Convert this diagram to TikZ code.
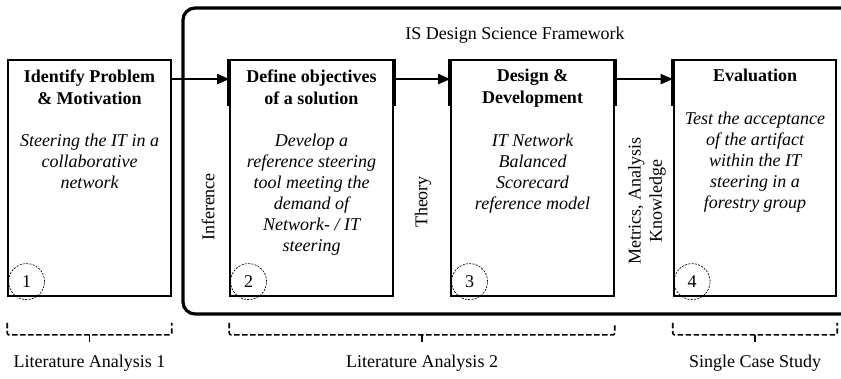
\documentclass[tikz,border=0pt]{standalone}
\usepackage{fontspec}
\setmainfont{Liberation Serif}
\usetikzlibrary{arrows.meta, positioning, calc}

\begin{document}
\begin{tikzpicture}[
    x=0.75pt, y=-0.75pt,
    phase/.style={rectangle, draw=black, line width=1.4pt, minimum width=122pt, minimum height=177pt, inner sep=0pt},
    head/.style={font=\fontsize{13.5}{16.5}\selectfont\bfseries, align=center, anchor=north, inner sep=0pt, text depth=0pt},
    desc/.style={font=\fontsize{13.5}{15.8}\selectfont\itshape, align=center, inner sep=0pt},
    num/.style={circle, draw=black, dash pattern=on 1.5pt off 1pt, line width=0.5pt, minimum size=27pt, inner sep=0pt, font=\fontsize{13.5}{16}\selectfont},
    flow/.style={-{Triangle[length=9pt,width=7.5pt]}, line width=1.5pt},
    side/.style={line width=3pt},
    side label/.style={rotate=90, align=center, font=\fontsize{13.5}{16}\selectfont, inner sep=0pt},
    bracket/.style={dash pattern=on 4pt off 2pt, line width=1.2pt, rounded corners=1.5pt},
    plain/.style={font=\fontsize{13.5}{16}\selectfont, inner sep=0pt}
]
\useasboundingbox (0,0) rectangle (841,378);

% Framework
\draw[line width=2.4pt, rounded corners=9pt] (845,8) -- (183,8) -- (183,314) -- (845,314);
\node[plain] (fw) at (515,35) {IS Design Science Framework};

% Phases
\node[phase] (b1) at (89.5,178) {};
\node[phase] (b2) at (311.5,178) {};
\node[phase] (b3) at (532.5,178) {};
\node[phase] (b4) at (755,178) {};

\node[head] (h1) at ([yshift=-7.5pt]b1.north) {Identify Problem\\\& Motivation};
\node[head] (h2) at ([yshift=-7.5pt]b2.north) {Define objectives\\of a solution};
\node[head] (h3) at ([yshift=-7.5pt]b3.north) {Design \&\\Development};
\node[head] (h4) at ([yshift=-7.5pt]b4.north) {Evaluation};

\node[desc, below=22pt of h1] (t1) {Steering the IT in a\\collaborative\\network};
\node[desc, below=22pt of h2] (t2) {Develop a\\reference steering\\tool meeting the\\demand of\\Network- / IT\\steering};
\node[desc, below=22pt of h3] (t3) {IT Network\\Balanced\\Scorecard\\reference model};
\node[desc, below=22pt of h4] (t4) {Test the acceptance\\of the artifact\\within the IT\\steering in a\\forestry group};

% Numbers
\foreach \b/\n in {b1/1, b2/2, b3/3, b4/4}
    \node[num] (n\n) at ([xshift=14.5pt,yshift=11.5pt]\b.south west) {\n};

% Heavier heading edges
\draw[side] (b2.north west) -- ++(0,47);
\draw[side] (b2.north east) -- ++(0,47);
\draw[side] (b3.north west) -- ++(0,47);
\draw[side] (b3.north east) -- ++(0,47);
\draw[side] (b4.north west) -- ++(0,47);

% Flow
\draw[flow] ([yshift=-15pt]b1.north east) -- ([yshift=-15pt]b2.north west);
\draw[flow] ([yshift=-15pt]b2.north east) -- ([yshift=-15pt]b3.north west);
\draw[flow] ([yshift=-15pt]b3.north east) -- ([yshift=-15pt]b4.north west);

% Outputs between phases
\node[side label] (inf) at (208,207) {Inference};
\node[side label] (thy) at (423,202) {Theory};
\node[side label] (mak) at (647,201) {Metrics, Analysis\\Knowledge};

% Methods
\foreach \a/\b/\t/\n in {b1/b1/Literature Analysis 1/m1, b2/b3/Literature Analysis 2/m2, b4/b4/Single Case Study/m3} {
    \draw[bracket] ([yshift=-19.5pt]\a.south west) -- ([yshift=-28.5pt]\a.south west)
        -- ([yshift=-28.5pt]\b.south east) -- ([yshift=-19.5pt]\b.south east);
    \coordinate (c\n) at ($([yshift=-28.5pt]\a.south west)!0.5!([yshift=-28.5pt]\b.south east)$);
    \draw[line width=1.2pt] (c\n) -- ++(0,7);
    \node[plain] (\n) at ($(c\n)+(0,28)$) {\t};
}

\end{tikzpicture}
\end{document}
